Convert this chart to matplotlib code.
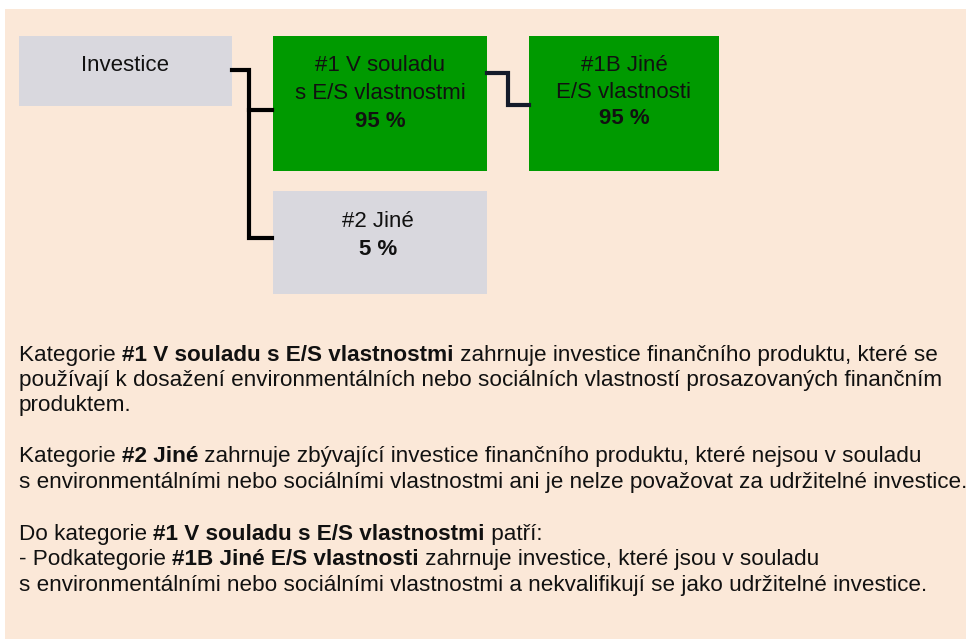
import matplotlib
matplotlib.use("Agg")
import matplotlib.pyplot as plt
from matplotlib.patches import Rectangle

plt.rcParams['font.family'] = ['Liberation Sans', 'DejaVu Sans']

# box labels and shares
boxNames = ["Investice", "#1 V souladu\ns E/S vlastnostmi", "#1B Jiné\nE/S vlastnosti", "#2 Jiné"]
boxShares = [None, "95 %", "95 %", "5 %"]

# explanatory text, (text, bold) segments per line
textLines = [
    [("Kategorie ", False), ("#1 V souladu s E/S vlastnostmi", True),
     (" zahrnuje investice finančního produktu, které se", False)],
    [("používají k dosažení environmentálních nebo sociálních vlastností prosazovaných finančním", False)],
    [("produktem.", False)],
    [("Kategorie ", False), ("#2 Jiné", True),
     (" zahrnuje zbývající investice finančního produktu, které nejsou v souladu", False)],
    [("s environmentálními nebo sociálními vlastnostmi ani je nelze považovat za udržitelné investice.", False)],
    [("Do kategorie ", False), ("#1 V souladu s E/S vlastnostmi", True), (" patří:", False)],
    [("- Podkategorie ", False), ("#1B Jiné E/S vlastnosti", True),
     (" zahrnuje investice, které jsou v souladu", False)],
    [("s environmentálními nebo sociálními vlastnostmi a nekvalifikují se jako udržitelné investice.", False)],
]
lineY = [361, 386, 411, 462, 488, 540, 565, 591]

bg = "#FBE8D8"
grey = "#D9D8DE"
green = "#009A00"

fig = plt.figure(figsize=(9.66, 6.39), dpi=100)
ax = fig.add_axes([0, 0, 1, 1])
ax.set_xlim(0, 966)
ax.set_ylim(639, 0)
ax.axis("off")

ax.add_patch(Rectangle((5, 9), 961, 630, facecolor=bg, edgecolor="none"))

# boxes: x0, y0, w, h, colour, text-centre x, first baseline, line step
boxes = [
    (19, 36, 213, 70, grey, 125, 71, 28),
    (273, 36, 214, 135, green, 380, 71, 28),
    (529, 36, 190, 135, green, 624, 71, 26.5),
    (273, 191, 214, 103, grey, 378, 227, 28),
]
for (x0, y0, w, h, col, cx, ty, step), name, share in zip(boxes, boxNames, boxShares):
    ax.add_patch(Rectangle((x0, y0), w, h, facecolor=col, edgecolor="none"))
    lines = name.split("\n")
    for i, ln in enumerate(lines):
        ax.text(cx, ty + i * step, ln, ha="center", va="baseline", fontsize=16, color="#111111")
    if share:
        ax.text(cx, ty + len(lines) * step, share, ha="center", va="baseline",
                fontsize=16, fontweight="bold", color="#111111")

# connectors
ax.plot([232, 249, 249, 272], [70, 70, 238, 238], color="black", lw=3, solid_joinstyle="miter")
ax.plot([249, 272], [110, 110], color="black", lw=3)
ax.plot([487, 508, 508, 529], [73, 73, 105, 105], color="#141B2A", lw=3, solid_joinstyle="miter")

# text with mixed weights
fig.canvas.draw()
renderer = fig.canvas.get_renderer()
inv = ax.transData.inverted()
for segs, y in zip(textLines, lineY):
    x = 19
    for s, b in segs:
        t = ax.text(x, y, s, ha="left", va="baseline", fontsize=16.2,
                    fontweight="bold" if b else "normal", color="#111111")
        bb = t.get_window_extent(renderer)
        x = inv.transform((bb.x1, bb.y0))[0]

fig.savefig("out.png", dpi=100)
